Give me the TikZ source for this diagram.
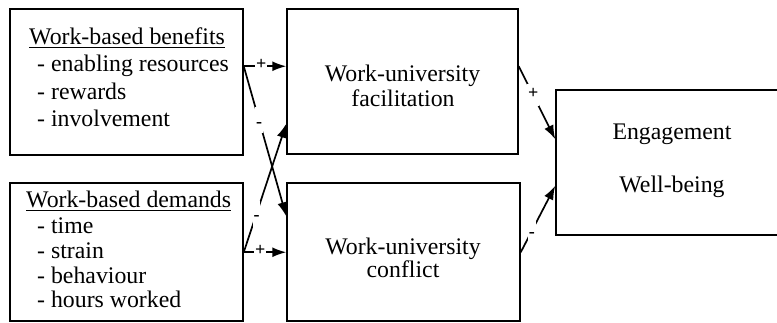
\documentclass[tikz,border=0pt]{standalone}
\usepackage{fontspec}
\setmainfont{Liberation Serif}
\usetikzlibrary{arrows.meta}
\tikzset{
  box/.style={draw=black, line width=1.5pt, inner sep=0pt, fill=white},
  txt/.style={inner sep=0pt, font=\fontsize{23.8}{27}\selectfont},
  arr/.style={line width=1.7pt, -{Latex[length=14pt,width=10pt]}},
  plbl/.style={fill=white, inner sep=1pt, text height=13pt, text depth=7pt, font=\fontsize{18}{18}\selectfont\bfseries},
  mlbl/.style={fill=white, inner sep=1pt, text height=19pt, text depth=5pt, font=\fontsize{18}{18}\selectfont\bfseries}
}
\begin{document}
\begin{tikzpicture}[x=1pt,y=-1pt]
\useasboundingbox (0,0) rectangle (777,323);
\fill[white] (0,0) rectangle (777,323);
% boxes
\node[box, minimum width=233pt, minimum height=146pt] (b1) at (126.5,82) {};
\node[box, minimum width=233pt, minimum height=138pt] (b2) at (126.5,252) {};
\node[box, minimum width=231pt, minimum height=145pt] (b3) at (402.5,81.5) {};
\node[box, minimum width=233pt, minimum height=138pt] (b4) at (403.5,252) {};
\node[box, minimum width=234pt, minimum height=145pt] (b5) at (673,162.5) {};
% texts box 1
\node[txt, anchor=base west] (t1h) at (29,45) {\underline{Work-based benefits}};
\node[txt, anchor=base west] (t1a) at (37,72) {- enabling resources};
\node[txt, anchor=base west] (t1b) at (37,99.5) {- rewards};
\node[txt, anchor=base west] (t1c) at (37,127) {- involvement};
% texts box 2
\node[txt, anchor=base west] (t2h) at (26,208) {\underline{Work-based demands}};
\node[txt, anchor=base west] (t2a) at (37,234) {- time};
\node[txt, anchor=base west] (t2b) at (37,259) {- strain};
\node[txt, anchor=base west] (t2c) at (37,284) {- behaviour};
\node[txt, anchor=base west] (t2d) at (37,308) {- hours worked};
% texts box 3, 4, 5
\node[txt, anchor=base] (t3a) at (402.5,82) {Work-university};
\node[txt, anchor=base] (t3b) at (403,107) {facilitation};
\node[txt, anchor=base] (t4a) at (403,255) {Work-university};
\node[txt, anchor=base] (t4b) at (403,278) {conflict};
\node[txt, anchor=base] (t5a) at (672,140) {Engagement};
\node[txt, anchor=base] (t5b) at (672,193) {Well-being};
% connectors
\coordinate (s1) at ([yshift=-58pt]b1.north east);
\coordinate (s2) at ([yshift=-70pt]b2.north east);
\draw[arr] (s1) -- node[plbl, pos=0.41] (l1) {+} (s1 -| b3.west);
\draw[arr] (s1) -- node[mlbl, pos=0.36] (l2) {-} ([yshift=-34pt]b4.north west);
\draw[arr] (s2) -- node[plbl, pos=0.39] (l3) {+} (s2 -| b4.west);
\draw[arr] (s2) -- node[mlbl, pos=0.3] (l4) {-} ([yshift=31pt]b3.south west);
\draw[arr] ([yshift=-58pt]b3.north east) -- node[plbl, pos=0.4] (l5) {+} ([yshift=-50pt]b5.north west);
\draw[arr] ([yshift=-70pt]b4.north east) -- node[mlbl, pos=0.32] (l6) {-} ([yshift=50pt]b5.south west);
\end{tikzpicture}
\end{document}
